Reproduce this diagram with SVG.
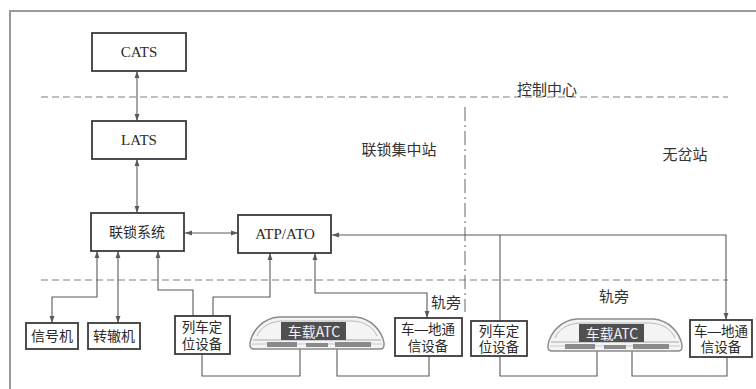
<svg xmlns="http://www.w3.org/2000/svg" width="756" height="389" viewBox="0 0 756 389">
  <style>
    .box { fill: #ffffff; stroke: #3a3a3a; stroke-width: 1.8; }
    .lat { font-family: "Liberation Serif", "Times New Roman", serif; font-size: 15px; fill: #2a2a2a; text-anchor: middle; }
    .cjk { font-family: "Noto Sans CJK SC", "Noto Sans", sans-serif; font-size: 14px; fill: #2a2a2a; text-anchor: middle; }
    .two { font-family: "Liberation Sans", "Noto Sans CJK SC", sans-serif; font-size: 13.5px; fill: #2a2a2a; text-anchor: middle; }
    .lbl { font-family: "Noto Sans CJK SC", "Noto Sans", sans-serif; font-size: 15px; fill: #333333; text-anchor: middle; }
    .wire { fill: none; stroke: #5a5a5a; stroke-width: 1.1; }
    .dash { fill: none; stroke: #808080; stroke-width: 1.2; stroke-dasharray: 7 4; }
    .dashdot { fill: none; stroke: #808080; stroke-width: 1.2; stroke-dasharray: 14 4 2 4; }
    .tag { font-family: "Noto Sans CJK SC", "Liberation Serif", sans-serif; font-size: 14px; fill: #f2f2f2; text-anchor: middle; }
  </style>
  <defs>
    <marker id="ah" viewBox="0 0 10 10" refX="10" refY="5" markerWidth="7" markerHeight="7" orient="auto-start-reverse" markerUnits="userSpaceOnUse">
      <path d="M0 1.5 L10 5 L0 8.5 Z" fill="#5a5a5a"/>
    </marker>
    <!-- vehicle outline, local origin at its left end -->
    <g id="train">
      <path d="M1 27 C3 15 14 2 30 1 L106 1 C122 2 133 15 135 27 L135 29 Q135 33 131 33 L5 33 Q1 33 1 29 Z" fill="#f4f4f4" stroke="#8a8a8a" stroke-width="1.4"/>
      <path d="M8 20 C12 11 20 6 32 5 L104 5 C116 6 124 11 128 20" fill="none" stroke="#b8b8b8" stroke-width="1"/>
      <path d="M4 24 L132 24" fill="none" stroke="#a8a8a8" stroke-width="1.2"/>
      <path d="M3 28 L133 28" fill="none" stroke="#c8c8c8" stroke-width="1"/>
      <rect x="18" y="26" width="30" height="5" fill="#8a8a8a"/>
      <rect x="57" y="27" width="22" height="4" fill="#8a8a8a"/>
      <rect x="86" y="26" width="36" height="5" fill="#8a8a8a"/>
      <rect x="32" y="6" width="65" height="18" fill="#505050"/>
    </g>
  </defs>

  <rect width="756" height="389" fill="#ffffff"/>
  <!-- outer frame -->
  <path d="M10 389 V11 H756" fill="none" stroke="#9a9a9a" stroke-width="2"/>

  <!-- zone separators -->
  <g id="zones">
    <path class="dash" d="M41 97 H728"/>
    <path class="dash" d="M41 280 H728"/>
    <path class="dashdot" d="M465 107 V312"/>
    <text class="lbl" x="547" y="95">控制中心</text>
    <text class="lbl" x="399" y="155">联锁集中站</text>
    <text class="lbl" x="685" y="160">无岔站</text>
    <text class="lbl" x="446" y="308">轨旁</text>
    <text class="lbl" x="614" y="302">轨旁</text>
  </g>

  <!-- connectors -->
  <g id="connectors">
    <path class="wire" d="M137 71 V121" marker-start="url(#ah)" marker-end="url(#ah)"/>
    <path class="wire" d="M137 159 V213" marker-start="url(#ah)" marker-end="url(#ah)"/>
    <path class="wire" d="M185 233 H238" marker-start="url(#ah)" marker-end="url(#ah)"/>
    <path class="wire" d="M97 251 V297 H52 V323" marker-start="url(#ah)" marker-end="url(#ah)"/>
    <path class="wire" d="M118 251 V323" marker-start="url(#ah)" marker-end="url(#ah)"/>
    <path class="wire" d="M193 316 V290 H158 V251" marker-end="url(#ah)"/>
    <path class="wire" d="M213 316 V297 H270 V253" marker-end="url(#ah)"/>
    <path class="wire" d="M315 253 V293 H427 V318" marker-start="url(#ah)" marker-end="url(#ah)"/>
    <path class="wire" d="M332 235 H726 V320" marker-start="url(#ah)" marker-end="url(#ah)"/>
    <path class="wire" d="M500 235 V321"/>
    <path class="wire" d="M202 354 V376 H300 V346"/>
    <path class="wire" d="M337 346 V376 H429 V356"/>
    <path class="wire" d="M500 356 V376 H597 V348"/>
    <path class="wire" d="M632 348 V376 H727 V357"/>
  </g>

  <g id="cats">
    <rect class="box" x="92" y="33" width="94" height="38"/>
    <text class="lat" x="139" y="57">CATS</text>
  </g>
  <g id="lats">
    <rect class="box" x="92" y="121" width="94" height="38"/>
    <text class="lat" x="139" y="145">LATS</text>
  </g>
  <g id="interlocking">
    <rect class="box" x="91" y="213" width="93" height="38"/>
    <text class="cjk" x="137" y="237" font-size="15">联锁系统</text>
  </g>
  <g id="atp-ato">
    <rect class="box" x="238" y="215" width="93" height="38"/>
    <text class="lat" x="285" y="239">ATP/ATO</text>
  </g>
  <g id="signal">
    <rect class="box" x="26" y="323" width="52" height="26"/>
    <text class="cjk" x="52" y="341">信号机</text>
  </g>
  <g id="switch">
    <rect class="box" x="88" y="323" width="52" height="26"/>
    <text class="cjk" x="114" y="341">转辙机</text>
  </g>
  <g id="positioning-1">
    <rect class="box" x="175" y="316" width="55" height="38"/>
    <text class="two" x="202" y="332"><tspan x="202">列车定</tspan><tspan x="202" dy="16.5">位设备</tspan></text>
  </g>
  <g id="onboard-1">
    <use href="#train" x="249" y="316"/>
    <text class="tag" x="314" y="337">车载ATC</text>
  </g>
  <g id="comm-1">
    <rect class="box" x="395" y="318" width="67" height="38"/>
    <text class="two" x="428" y="334"><tspan x="428">车—地通</tspan><tspan x="428" dy="16.5">信设备</tspan></text>
  </g>
  <g id="positioning-2">
    <rect class="box" x="471" y="321" width="56" height="35"/>
    <text class="two" x="499" y="335.5"><tspan x="499">列车定</tspan><tspan x="499" dy="16">位设备</tspan></text>
  </g>
  <g id="onboard-2">
    <use href="#train" x="547" y="318"/>
    <text class="tag" x="612" y="339">车载ATC</text>
  </g>
  <g id="comm-2">
    <rect class="box" x="690" y="320" width="62" height="37"/>
    <text class="two" x="721" y="335.5"><tspan x="721">车—地通</tspan><tspan x="721" dy="16">信设备</tspan></text>
  </g>
</svg>
